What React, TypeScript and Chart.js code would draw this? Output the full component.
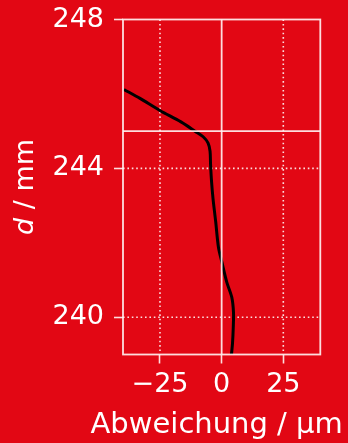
import React, { useEffect, useRef } from "react";
import { Chart, registerables } from "chart.js";

Chart.register(...registerables);

// Data
const deviationUm = [-39.6, -33.1, -24.9, -16.5, -10.8, -7.5, -5.5, -4.7, -4.5, -4.1, -3.5, -2.4, -1.3, 0.1, 2.1, 4.1, 4.8, 4.7, 4.4, 3.9];
const depthMm = [246.12, 245.88, 245.55, 245.25, 245.0, 244.85, 244.68, 244.46, 244.11, 243.65, 243.19, 242.56, 241.88, 241.48, 240.94, 240.54, 240.13, 239.71, 239.3, 238.95];

const xTicks = [-25, 0, 25];
const yTicks = [240, 244, 248];
const xRange = [-40, 40];
const yRange = [239, 248];
const dottedX = [-25, 25];
const dottedY = [240, 244];
const refX = [0];
const refY = [245];

const xTitle = "Abweichung / µm";
const yTitleItalic = "d";
const yTitleRest = " / mm";

const RED = "rgb(226,7,20)";
const WHITE = "#ffffff";
const LINE = "rgba(255,240,240,0.92)";
const FONT = "DejaVu Sans";
const FS = 27;

const fmt = (v: number) => (v < 0 ? "\u2212" + Math.abs(v) : String(v));

const overlay = {
  id: "overlay",
  beforeDraw(chart: any) {
    const { ctx, width, height } = chart;
    ctx.save();
    ctx.fillStyle = RED;
    ctx.fillRect(0, 0, width, height);
    ctx.restore();
  },
  beforeDatasetsDraw(chart: any) {
    const { ctx, chartArea: a, scales } = chart;
    const x = scales.x;
    const y = scales.y;
    ctx.save();
    ctx.strokeStyle = LINE;
    ctx.lineWidth = 1.6;
    ctx.setLineDash([1.6, 2.8]);
    for (const v of dottedX) {
      const px = x.getPixelForValue(v);
      ctx.beginPath();
      ctx.moveTo(px, a.top);
      ctx.lineTo(px, a.bottom);
      ctx.stroke();
    }
    for (const v of dottedY) {
      const py = y.getPixelForValue(v);
      ctx.beginPath();
      ctx.moveTo(a.left, py);
      ctx.lineTo(a.right, py);
      ctx.stroke();
    }
    ctx.restore();
  },
  afterDatasetsDraw(chart: any) {
    const { ctx, chartArea: a, scales } = chart;
    const x = scales.x;
    const y = scales.y;
    ctx.save();
    ctx.strokeStyle = LINE;
    ctx.lineWidth = 1.8;
    ctx.setLineDash([]);
    for (const v of refX) {
      const px = x.getPixelForValue(v);
      ctx.beginPath();
      ctx.moveTo(px, a.top);
      ctx.lineTo(px, a.bottom);
      ctx.stroke();
    }
    for (const v of refY) {
      const py = y.getPixelForValue(v);
      ctx.beginPath();
      ctx.moveTo(a.left, py);
      ctx.lineTo(a.right, py);
      ctx.stroke();
    }
    ctx.strokeRect(a.left, a.top, a.right - a.left, a.bottom - a.top);
    ctx.restore();
  },
  afterDraw(chart: any) {
    const { ctx, chartArea: a } = chart;
    ctx.save();
    ctx.fillStyle = WHITE;
    // x title
    ctx.font = `${FS + 2}px "${FONT}"`;
    ctx.textAlign = "center";
    ctx.textBaseline = "alphabetic";
    ctx.fillText(xTitle, (a.left + a.right) / 2 - 5, 433);
    // y title, rotated, italic d
    const cy = (a.top + a.bottom) / 2;
    ctx.translate(33, cy);
    ctx.rotate(-Math.PI / 2);
    ctx.font = `italic ${FS}px "${FONT}"`;
    const w1 = ctx.measureText(yTitleItalic).width;
    ctx.font = `${FS}px "${FONT}"`;
    const w2 = ctx.measureText(yTitleRest).width;
    const start = -(w1 + w2) / 2;
    ctx.textAlign = "left";
    ctx.font = `italic ${FS}px "${FONT}"`;
    ctx.fillText(yTitleItalic, start, 0);
    ctx.font = `${FS}px "${FONT}"`;
    ctx.fillText(yTitleRest, start + w1, 0);
    ctx.restore();
  },
};

export default function App() {
  const ref = useRef<HTMLCanvasElement | null>(null);
  useEffect(() => {
    document.body.style.background = RED;
    const canvas = ref.current;
    if (!canvas) return;
    const data = deviationUm.map((v, i) => ({ x: v, y: depthMm[i] }));
    const chart = new Chart(canvas, {
      type: "scatter",
      data: {
        datasets: [
          {
            data,
            showLine: true,
            borderColor: "#000000",
            borderWidth: 3,
            pointRadius: 0,
            tension: 0.3,
            fill: false,
          },
        ],
      },
      options: {
        responsive: false,
        animation: false,
        events: [],
        layout: { padding: { top: 19.5, right: 27.7, left: 0, bottom: 0 } },
        plugins: { legend: { display: false }, tooltip: { enabled: false } },
        scales: {
          x: {
            type: "linear",
            min: xRange[0],
            max: xRange[1],
            afterFit: (s: any) => {
              s.height = 88.5;
              s.paddingLeft = 0;
              s.paddingRight = 0;
            },
            afterBuildTicks: (s: any) => {
              s.ticks = xTicks.map((v) => ({ value: v }));
            },
            ticks: {
              color: WHITE,
              font: { family: FONT, size: FS },
              padding: 5,
              maxRotation: 0,
              autoSkip: false,
              callback: (v: any) => fmt(Number(v)),
            },
            grid: {
              drawOnChartArea: false,
              drawTicks: true,
              tickLength: 9,
              tickColor: LINE,
              tickWidth: 1.6,
              color: LINE,
            },
            border: { display: false },
          },
          y: {
            type: "linear",
            min: yRange[0],
            max: yRange[1],
            afterFit: (s: any) => {
              s.width = 123;
              s.paddingTop = 0;
              s.paddingBottom = 0;
            },
            afterBuildTicks: (s: any) => {
              s.ticks = yTicks.map((v) => ({ value: v }));
            },
            ticks: {
              color: WHITE,
              font: { family: FONT, size: FS },
              padding: 10,
              autoSkip: false,
              callback: (v: any) => fmt(Number(v)),
            },
            grid: {
              drawOnChartArea: false,
              drawTicks: true,
              tickLength: 9,
              tickColor: LINE,
              tickWidth: 1.6,
              color: LINE,
            },
            border: { display: false },
          },
        },
      },
      plugins: [overlay],
    } as any);
    return () => chart.destroy();
  }, []);
  return (
    <div style={{ position: "fixed", left: 0, top: 0, width: 348, height: 443, background: RED }}>
      <canvas ref={ref} width={348} height={443} style={{ display: "block", width: 348, height: 443 }} />
    </div>
  );
}
